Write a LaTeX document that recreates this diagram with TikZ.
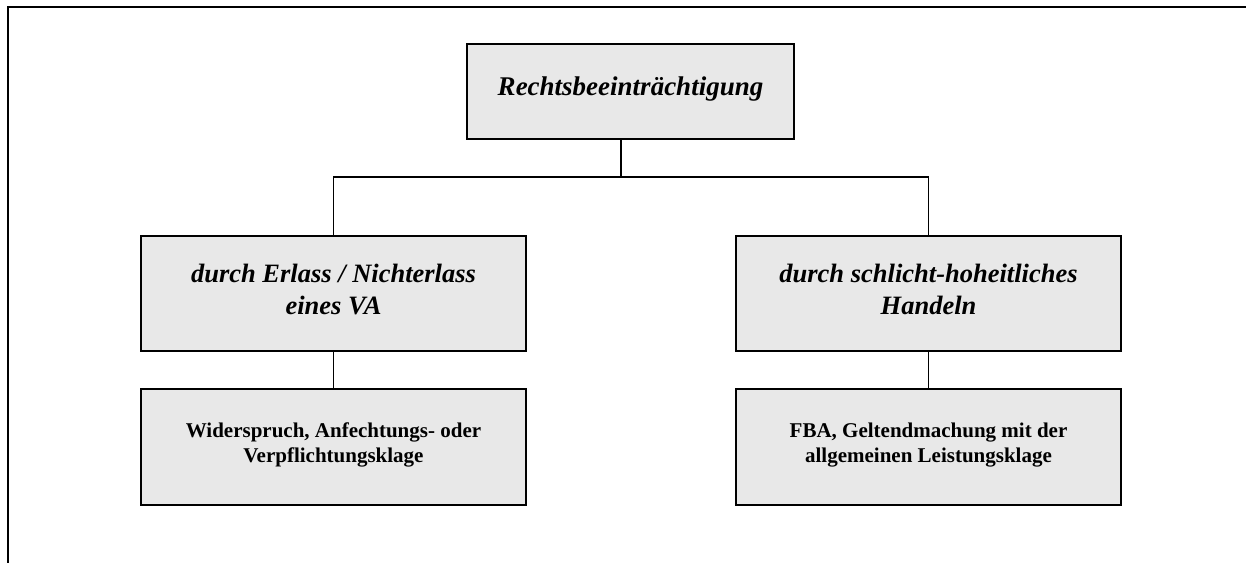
\documentclass[tikz,border=0pt]{standalone}
\usepackage{fontspec}
\setmainfont{Liberation Serif}
\definecolor{boxfill}{RGB}{232,232,232}
\begin{document}
\begin{tikzpicture}[x=1pt,y=-1pt,
  box/.style={draw=black, fill=boxfill, line width=1.6pt, inner sep=0pt, minimum width=385pt},
  conn/.style={draw=black, line width=1.2pt},
  frameline/.style={draw=black, line width=2.4pt},
  headtxt/.style={inner sep=0pt, anchor=base, font=\fontsize{27}{31}\selectfont\bfseries\itshape},
  subtxt/.style={inner sep=0pt, anchor=base, font=\fontsize{26.5}{31}\selectfont\bfseries\itshape},
  restxt/.style={inner sep=0pt, anchor=base, font=\fontsize{21}{25}\selectfont\bfseries}]
\useasboundingbox (0,0) rectangle (1246,563);

% open frame: top edge and left edge
\coordinate (fcorner) at (7.7,6.8);
\coordinate (fright) at (1246,6.8);
\coordinate (fbottom) at (7.7,563);
\draw[frameline] (fright) -- (fcorner) -- (fbottom);

% boxes
\node[box, minimum width=327pt, minimum height=95pt] (top) at (630.5,91.5) {};
\node[box, minimum height=115pt] (midL) at (333.5,293.5) {};
\node[box, minimum height=115pt] (midR) at (928.5,293.5) {};
\node[box, minimum height=116pt] (botL) at (333.5,447) {};
\node[box, minimum height=116pt] (botR) at (928.5,447) {};

% texts
\node[headtxt] (ttop) at (630.5,95) {Rechtsbeeinträchtigung};
\node[subtxt] (tmidLa) at (333.5,282) {durch Erlass / Nichterlass};
\node[subtxt] (tmidLb) at (333.5,314) {eines VA};
\node[subtxt] (tmidRa) at (928.5,282) {durch schlicht-hoheitliches};
\node[subtxt] (tmidRb) at (928.5,314) {Handeln};
\node[restxt] (tbotLa) at (333.5,437) {Widerspruch, Anfechtungs- oder};
\node[restxt] (tbotLb) at (333.5,462) {Verpflichtungsklage};
\node[restxt] (tbotRa) at (928.5,437) {FBA, Geltendmachung mit der};
\node[restxt] (tbotRb) at (928.5,462) {allgemeinen Leistungsklage};

% connectors
\coordinate (junction) at (621,177);
\draw[conn] (top.south -| junction) -- (junction);
\draw[conn] (midL.north) |- (junction) -| (midR.north);
\draw[conn] (midL.south) -- (botL.north);
\draw[conn] (midR.south) -- (botR.north);
\end{tikzpicture}
\end{document}
